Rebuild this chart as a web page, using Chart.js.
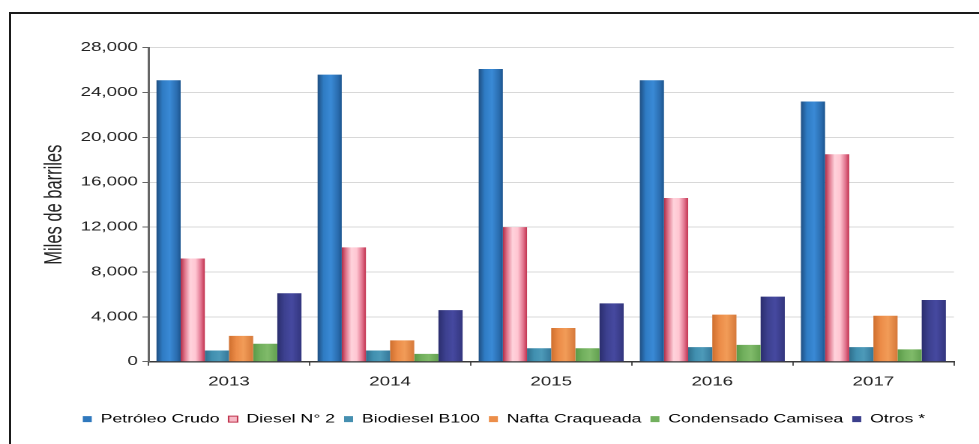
<!DOCTYPE html>
<html lang="es">
<head>
<meta charset="utf-8">
<title>Importaciones de hidrocarburos 2013-2017</title>
<script src="https://cdn.jsdelivr.net/npm/chart.js@4.4.1/dist/chart.umd.min.js"></script>
<style>
  html, body { margin: 0; padding: 0; background: #fff; overflow: hidden; }
  #frame {
    position: absolute; left: 9px; top: 12px;
    width: 1100px; height: 600px;
    border: 2px solid #1a1a1a; box-sizing: border-box;
  }
  #stage {
    position: absolute; left: 0; top: 0;
    width: 653px; height: 444px;
    transform: scaleX(1.4992); transform-origin: 0 0;
  }
</style>
</head>
<body>
<div id="frame"></div>
<div id="stage"><canvas id="chart" width="653" height="444"></canvas></div>
<script>
// Años del periodo
const years = ['2013', '2014', '2015', '2016', '2017'];

// Volúmenes importados (miles de barriles)
const petroleoCrudo      = [25100, 25600, 26100, 25100, 23200];
const dieselN2           = [9200, 10200, 12000, 14600, 18500];
const biodieselB100      = [1000, 1000, 1200, 1300, 1300];
const naftaCraqueada     = [2300, 1900, 3000, 4200, 4100];
const condensadoCamisea  = [1600, 700, 1200, 1500, 1100];
const otros              = [6100, 4600, 5200, 5800, 5500];

// Eje vertical
const yTicks = [0, 4000, 8000, 12000, 16000, 20000, 24000, 28000];
const yTitle = 'Miles de barriles';

const CAT_PCT = 0.9;

// Relleno cilíndrico: degradado horizontal a lo ancho de cada barra
function cylinder(stops, flat) {
  return (ctx) => {
    if (ctx.type !== 'data') return flat;
    const chart = ctx.chart;
    const xs = chart.scales.x;
    if (!xs || !isFinite(xs.left)) return flat;
    const n = chart.data.labels.length;
    const sets = chart.data.datasets.length;
    const catW = (xs.right - xs.left) / n;
    const bw = catW * CAT_PCT / sets;
    const x0 = xs.getPixelForValue(ctx.dataIndex) - catW * CAT_PCT / 2 + ctx.datasetIndex * bw;
    const g = chart.ctx.createLinearGradient(x0, 0, x0 + bw, 0);
    stops.forEach(([o, c]) => g.addColorStop(o, c));
    return g;
  };
}

const styles = [
  { flat: '#2f78bd', edge: '#1d4f82',
    stops: [[0, '#1f4f82'], [0.25, '#2f7cc4'], [0.55, '#3a8ad6'], [0.85, '#2a6cae'], [1, '#1c558f']] },
  { flat: '#f7b9c6', edge: '#c0354f',
    stops: [[0, '#b02c46'], [0.18, '#e0788e'], [0.4, '#ffd3dc'], [0.62, '#ffc6d2'], [0.84, '#e27690'], [1, '#c2324f']] },
  { flat: '#458fb0', edge: '#306f8c',
    stops: [[0, '#2f6f8c'], [0.3, '#4190b0'], [0.6, '#4d9ab9'], [1, '#35789a']] },
  { flat: '#ec8e4a', edge: '#c86e2e',
    stops: [[0, '#cf6f2e'], [0.3, '#ec8c48'], [0.6, '#f29c58'], [1, '#d6793a']] },
  { flat: '#72b05e', edge: '#4f8c3e',
    stops: [[0, '#5a9a48'], [0.3, '#72b05e'], [0.6, '#80bb6a'], [1, '#62a050']] },
  { flat: '#3b3f8c', edge: '#2a2d6c',
    stops: [[0, '#2b2e6e'], [0.3, '#3d4190'], [0.6, '#4649a0'], [1, '#33367e']] }
];

const names = ['Petróleo Crudo', 'Diesel N° 2', 'Biodiesel B100', 'Nafta Craqueada', 'Condensado Camisea', 'Otros *'];
const series = [petroleoCrudo, dieselN2, biodieselB100, naftaCraqueada, condensadoCamisea, otros];

const datasets = series.map((values, i) => ({
  label: names[i],
  data: values,
  backgroundColor: cylinder(styles[i].stops, styles[i].flat),
  borderWidth: 0,
  categoryPercentage: CAT_PCT,
  barPercentage: 1.0
}));

// Desplaza la leyenda para centrarla bajo el conjunto del gráfico
const legendShift = {
  id: 'legendShift',
  afterLayout(chart) {
    const lg = chart.legend;
    if (lg) { lg.left += 18; lg.right += 18; }
  }
};

const FONT = "'Liberation Sans', Arial, sans-serif";

new Chart(document.getElementById('chart'), {
  type: 'bar',
  data: { labels: years, datasets },
  plugins: [legendShift],
  options: {
    responsive: false,
    animation: false,
    devicePixelRatio: 2,
    layout: { padding: { top: 47.7, right: 16.7, bottom: 9, left: 0 } },
    scales: {
      x: {
        afterFit(scale) { scale.height += 8.5; },
        grid: { display: true, drawOnChartArea: false, drawTicks: true, tickLength: 4, color: '#555', offset: true },
        border: { display: true, color: '#3a3a3a', width: 1.5 },
        ticks: { color: '#222', font: { family: FONT, size: 12.5 }, padding: 9 }
      },
      y: {
        min: 0, max: 28000,
        afterBuildTicks(scale) { scale.ticks = yTicks.map(v => ({ value: v })); },
        afterFit(scale) { scale.width = 99; },
        grid: { color: '#d8d8d8', lineWidth: 1, tickLength: 4, tickColor: '#666' },
        border: { display: true, color: '#666', width: 1.5 },
        ticks: {
          color: '#222', font: { family: FONT, size: 12.5 }, padding: 3,
          callback: (v) => Number(v).toLocaleString('en-US')
        },
        title: {
          display: true, text: yTitle, color: '#222',
          font: { family: FONT, size: 16.5 }, padding: { top: 26.5, bottom: 0 }
        }
      }
    },
    plugins: {
      tooltip: { enabled: false },
      legend: {
        position: 'bottom',
        labels: {
          color: '#333',
          font: { family: FONT, size: 11.8 },
          boxWidth: 6, boxHeight: 6, padding: 6,
          generateLabels: (chart) => chart.data.datasets.map((d, i) => ({
            text: d.label,
            fillStyle: styles[i].flat,
            strokeStyle: styles[i].edge,
            lineWidth: i === 1 ? 1 : 0,
            datasetIndex: i,
            hidden: false
          }))
        }
      }
    }
  }
});
</script>
</body>
</html>
